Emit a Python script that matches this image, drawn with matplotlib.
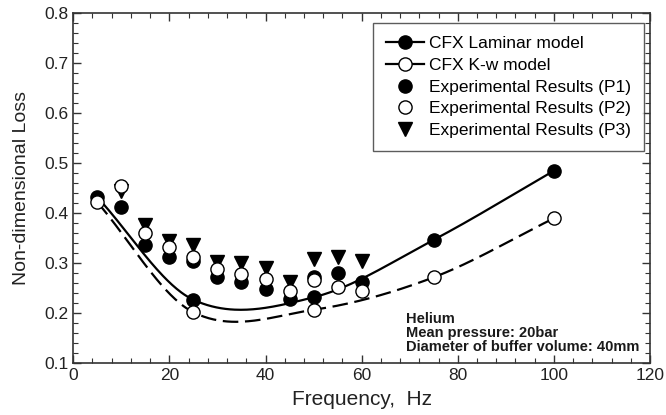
import numpy as np
import matplotlib
matplotlib.use("Agg")
import matplotlib.pyplot as plt
from matplotlib.ticker import MultipleLocator

plt.rcParams['font.family'] = ['Liberation Sans', 'DejaVu Sans']

# Model results
model_freq = [5, 25, 50, 75, 100]
laminar = [0.432, 0.227, 0.232, 0.347, 0.485]
kw = [0.422, 0.202, 0.207, 0.272, 0.390]

# Experimental results
exp_freq = [10, 15, 20, 25, 30, 35, 40, 45, 50, 55, 60]
p1 = [0.413, 0.337, 0.313, 0.305, 0.272, 0.262, 0.249, 0.229, 0.273, 0.280, 0.262]
p2 = [0.455, 0.360, 0.333, 0.313, 0.289, 0.279, 0.269, 0.244, 0.267, 0.253, 0.245]
p3 = [0.445, 0.377, 0.345, 0.337, 0.303, 0.300, 0.291, 0.262, 0.309, 0.313, 0.305]

xticks = [0, 20, 40, 60, 80, 100, 120]
yticks = [0.1, 0.2, 0.3, 0.4, 0.5, 0.6, 0.7, 0.8]
note_lines = ["Helium", "Mean pressure: 20bar", "Diameter of buffer volume: 40mm"]


def smooth_curve(x, y, npts=300):
    """Cubic Hermite (Catmull-Rom style) curve through the given points."""
    x = np.asarray(x, float); y = np.asarray(y, float)
    n = len(x)
    m = np.empty(n)
    m[0] = (y[1] - y[0]) / (x[1] - x[0])
    m[-1] = (y[-1] - y[-2]) / (x[-1] - x[-2])
    for i in range(1, n - 1):
        m[i] = (y[i + 1] - y[i - 1]) / (x[i + 1] - x[i - 1])
    xs = np.linspace(x[0], x[-1], npts)
    ys = np.empty_like(xs)
    for k, xv in enumerate(xs):
        i = min(max(np.searchsorted(x, xv) - 1, 0), n - 2)
        h = x[i + 1] - x[i]
        t = (xv - x[i]) / h
        h00 = 2 * t**3 - 3 * t**2 + 1
        h10 = t**3 - 2 * t**2 + t
        h01 = -2 * t**3 + 3 * t**2
        h11 = t**3 - t**2
        ys[k] = h00 * y[i] + h10 * h * m[i] + h01 * y[i + 1] + h11 * h * m[i + 1]
    return xs, ys


fig = plt.figure(figsize=(6.66, 4.15), dpi=100)
ax = fig.add_axes([0.110, 0.1246, 0.866, 0.8434])

ms = 9.5
lx, ly = smooth_curve(model_freq, laminar)
kx, ky = smooth_curve(model_freq, kw)
ax.plot(lx, ly, color='black', lw=1.6)
ax.plot(kx, ky, color='black', lw=1.6, dashes=(7, 3))

ax.plot(exp_freq, p3, linestyle='none', marker='v', ms=ms, mfc='black',
        mec='black')
ax.plot(exp_freq, p1, linestyle='none', marker='o', ms=ms, mfc='black',
        mec='black')
ax.plot(exp_freq, p2, linestyle='none', marker='o', ms=ms, mfc='white',
        mec='black', mew=1.0)
ax.plot(model_freq, laminar, linestyle='none', marker='o', ms=ms,
        mfc='black', mec='black')
ax.plot(model_freq, kw, linestyle='none', marker='o', ms=ms,
        mfc='white', mec='black', mew=1.0)

# legend handles
h1, = ax.plot([], [], color='black', lw=1.6, marker='o', ms=ms, mfc='black',
              mec='black')
h2, = ax.plot([], [], color='black', lw=1.6, marker='o', ms=ms, mfc='white',
              mec='black', mew=1.0)
h3, = ax.plot([], [], linestyle='none', marker='o', ms=ms, mfc='black',
              mec='black')
h4, = ax.plot([], [], linestyle='none', marker='o', ms=ms, mfc='white',
              mec='black', mew=1.0)
h5, = ax.plot([], [], linestyle='none', marker='v', ms=ms, mfc='black',
              mec='black')
leg = ax.legend([h1, h2, h3, h4, h5],
                ["CFX Laminar model", "CFX K-w model",
                 "Experimental Results (P1)", "Experimental Results (P2)",
                 "Experimental Results (P3)"],
                loc='upper left', bbox_to_anchor=(0.5197, 0.9723),
                fontsize=12.5, frameon=True, fancybox=False,
                edgecolor='#333333', handlelength=2.2, handletextpad=0.3,
                labelspacing=0.38, borderpad=0.75, borderaxespad=0)
leg.get_frame().set_linewidth(1.0)

for i, t in enumerate(note_lines):
    ax.text(69.3, 0.188 - i * 0.0277, t, fontsize=10.5, fontweight='bold',
            va='center', ha='left', color='#1a1a1a')

ax.set_xlim(xticks[0], xticks[-1])
ax.set_ylim(yticks[0], yticks[-1])
ax.set_xticks(xticks)
ax.set_yticks(yticks)
ax.set_yticklabels([f"{v:.1f}" for v in yticks])
ax.xaxis.set_minor_locator(MultipleLocator(4))
ax.yaxis.set_minor_locator(MultipleLocator(0.02))
ax.tick_params(which='both', direction='in', top=True, right=True,
               colors='#333333', labelcolor='#222222', labelsize=12.5)
ax.tick_params(which='major', length=6, width=1.0)
ax.tick_params(which='minor', length=3.5, width=0.8)
for s in ax.spines.values():
    s.set_color('#333333')
    s.set_linewidth(1.2)

ax.set_xlabel("Frequency,  Hz", fontsize=15, color='#222222', labelpad=5)
ax.set_ylabel("Non-dimensional Loss", fontsize=14, color='#222222',
              labelpad=10)

fig.savefig("out.png", dpi=100)
